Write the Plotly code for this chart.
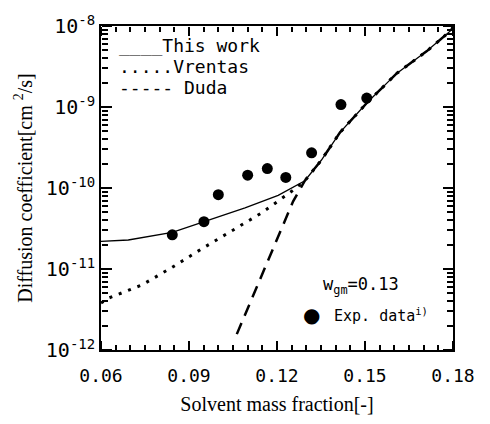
import plotly.graph_objects as go

# ---- data ----
upper_x = [0.1295, 0.1351, 0.1415, 0.1506, 0.1608, 0.1711, 0.1796, 0.18]
upper_y = [1.23e-10, 2.2e-10, 4.86e-10, 1.12e-9, 2.6e-9, 4.9e-9, 9.0e-9, 1.0e-8]

this_x = [0.06, 0.0693, 0.0843, 0.0951, 0.1091, 0.1204, 0.126]
this_y = [2.19e-11, 2.28e-11, 2.83e-11, 3.84e-11, 5.69e-11, 8.11e-11, 1.04e-10]

vrentas_x = [0.06, 0.0625, 0.0739, 0.0841, 0.0943, 0.1046, 0.1148, 0.125]
vrentas_y = [3.8e-12, 4.36e-12, 6.34e-12, 1.04e-11, 1.77e-11, 2.96e-11, 4.94e-11, 9.1e-11]

duda_x = [0.1063, 0.1255]
duda_y = [1.57e-12, 6.85e-11]

exp_x = [0.0843, 0.0951, 0.1000, 0.1100, 0.1167, 0.1230, 0.1318, 0.1418, 0.1506]
exp_y = [2.64e-11, 3.84e-11, 8.26e-11, 1.44e-10, 1.74e-10, 1.35e-10, 2.72e-10, 1.07e-9, 1.29e-9]

x_ticks = [0.06, 0.09, 0.12, 0.15, 0.18]
x_ticktext = ["0.06", "0.09", "0.12", "0.15", "0.18"]
y_ticks = [1e-12, 1e-11, 1e-10, 1e-9, 1e-8]
y_ticktext = ["10<sup>-12</sup>", "10<sup>-11</sup>", "10<sup>-10</sup>", "10<sup>-9</sup>", "10<sup>-8</sup>"]
x_minor = [round(0.06 + 0.005 * i, 3) for i in range(25)]
y_minor = [m * 10.0 ** e for e in range(-12, -8) for m in range(2, 10)]

MONO = "DejaVu Sans Mono"
SERIF = "Liberation Serif"
X_RANGE = [0.06, 0.18]
Y_RANGE = [-12, -8]

fig = go.Figure()
fig.add_trace(go.Scatter(x=vrentas_x + upper_x, y=vrentas_y + upper_y, mode="lines",
                         line=dict(color="black", width=3, dash="3px,7px"), showlegend=False))
fig.add_trace(go.Scatter(x=duda_x + upper_x, y=duda_y + upper_y, mode="lines",
                         line=dict(color="black", width=2.5, dash="12px,8px"), showlegend=False))
fig.add_trace(go.Scatter(x=this_x + upper_x, y=this_y + upper_y, mode="lines",
                         line=dict(color="black", width=1.3), showlegend=False))
fig.add_trace(go.Scatter(x=exp_x, y=exp_y, mode="markers",
                         marker=dict(color="black", size=11), showlegend=False))

# invisible carriers for the tick-only overlay axes
for k in range(2, 6):
    fig.add_trace(go.Scatter(x=[0.1], y=[1e-10], xaxis=f"x{k}", yaxis=f"y{k}", mode="markers",
                             marker=dict(opacity=0), showlegend=False, hoverinfo="skip"))

# legend-like texts
fig.add_annotation(xref="paper", yref="paper", x=0.045, y=0.94, xanchor="left", yanchor="middle",
                   text="____This work", showarrow=False, font=dict(family=MONO, size=18, color="black"))
fig.add_annotation(xref="paper", yref="paper", x=0.045, y=0.875, xanchor="left", yanchor="middle",
                   text=".....Vrentas", showarrow=False, font=dict(family=MONO, size=18, color="black"))
fig.add_annotation(xref="paper", yref="paper", x=0.045, y=0.81, xanchor="left", yanchor="middle",
                   text="----- Duda", showarrow=False, font=dict(family=MONO, size=18, color="black"))
fig.add_annotation(xref="paper", yref="paper", x=0.625, y=0.20, xanchor="left", yanchor="middle",
                   text="w<sub>gm</sub>=0.13", showarrow=False, font=dict(family=MONO, size=17, color="black"))
fig.add_annotation(xref="paper", yref="paper", x=0.655, y=0.107, xanchor="left", yanchor="middle",
                   text="Exp. data<sup>i)</sup>", showarrow=False, font=dict(family=MONO, size=15, color="black"))
fig.add_annotation(xref="paper", yref="paper", x=0.597, y=0.107, xanchor="center", yanchor="middle",
                   text="\u25CF", showarrow=False, font=dict(family="DejaVu Sans", size=20, color="black"))


def tick_x(side, pos, vals, length):
    return dict(overlaying="x", anchor="free", position=pos, side=side, range=X_RANGE,
                tickmode="array", tickvals=vals, showticklabels=False, ticks="outside",
                ticklen=length, tickwidth=1.6, tickcolor="black", showline=False,
                showgrid=False, zeroline=False)


def tick_y(side, pos, vals, length):
    return dict(overlaying="y", anchor="free", position=pos, side=side, type="log", range=Y_RANGE,
                tickmode="array", tickvals=vals, showticklabels=False, ticks="outside",
                ticklen=length, tickwidth=1.6, tickcolor="black", showline=False,
                showgrid=False, zeroline=False)


fig.update_layout(
    xaxis=dict(range=X_RANGE, tickmode="array", tickvals=x_ticks, ticktext=x_ticktext,
               ticks="inside", ticklen=9, tickwidth=1.6, tickcolor="black",
               showline=True, linecolor="black", linewidth=1.6,
               mirror=True, showgrid=False, zeroline=False,
               tickfont=dict(family=MONO, size=18, color="black"), ticklabelstandoff=9,
               title=dict(text="Solvent mass fraction[-]", font=dict(family=SERIF, size=20, color="black"),
                          standoff=12)),
    yaxis=dict(type="log", range=Y_RANGE, tickmode="array", tickvals=y_ticks, ticktext=y_ticktext,
               ticks="inside", ticklen=10, tickwidth=1.6, tickcolor="black",
               showline=True, linecolor="black", linewidth=1.6,
               mirror=True, showgrid=False, zeroline=False,
               tickfont=dict(family=MONO, size=20, color="black"),
               title=dict(text="Diffusion coefficient[cm <sup>2</sup>/s]",
                          font=dict(family=SERIF, size=20, color="black"), standoff=8)),
    xaxis2=tick_x("top", 0, x_ticks, 9),
    xaxis3=tick_x("bottom", 1, x_ticks, 9),
    xaxis4=tick_x("top", 0, x_minor, 5),
    xaxis5=tick_x("bottom", 1, x_minor, 5),
    yaxis2=tick_y("right", 0, y_ticks, 10),
    yaxis3=tick_y("left", 1, y_ticks, 10),
    yaxis4=tick_y("right", 0, y_minor, 6),
    yaxis5=tick_y("left", 1, y_minor, 6),
    width=490, height=424, margin=dict(l=101, r=37, t=22, b=73),
    paper_bgcolor="white", plot_bgcolor="white",
)

fig.write_html("out.html")
